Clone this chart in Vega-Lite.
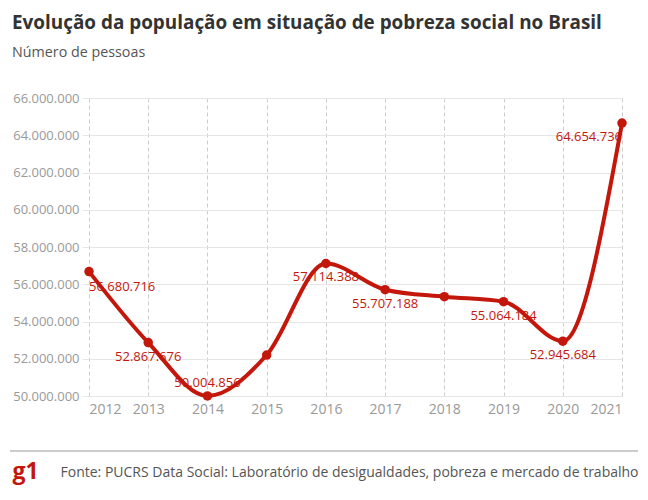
{
  "$schema": "https://vega.github.io/schema/vega-lite/v6.json",
  "width": 533,
  "height": 298,
  "autosize": "none",
  "padding": {"left": 89, "top": 98, "right": 26, "bottom": 104},
  "background": "white",
  "config": {
    "locale": {"number": {"decimal": ",", "thousands": ".", "grouping": [3], "currency": ["R$", ""]}},
    "font": "Open Sans",
    "view": {"stroke": null}
  },
  "title": {
    "text": "Evolução da população em situação de pobreza social no Brasil",
    "subtitle": "Número de pessoas",
    "anchor": "start",
    "frame": "group",
    "dx": -77,
    "offset": 32,
    "font": "Open Sans",
    "fontSize": 18.9,
    "fontWeight": "bold",
    "color": "#333333",
    "subtitleFont": "Open Sans",
    "subtitleFontSize": 14.3,
    "subtitleColor": "#555555",
    "subtitlePadding": 13
  },
  "data": {
    "values": [
      {"year": 2012, "value": 56680716},
      {"year": 2013, "value": 52867676},
      {"year": 2014, "value": 50004856},
      {"year": 2015, "value": 52200000},
      {"year": 2016, "value": 57114388},
      {"year": 2017, "value": 55707188},
      {"year": 2018, "value": 55330000},
      {"year": 2019, "value": 55064184},
      {"year": 2020, "value": 52945684},
      {"year": 2021, "value": 64654736}
    ]
  },
  "encoding": {
    "x": {
      "field": "year",
      "type": "quantitative",
      "scale": {"domain": [2012, 2021], "nice": false, "zero": false},
      "axis": {
        "values": [2012, 2013, 2014, 2015, 2016, 2017, 2018, 2019, 2020, 2021],
        "format": "d",
        "grid": true,
        "gridDash": [4, 3],
        "gridColor": "#cccccc",
        "gridWidth": 1,
        "domain": false,
        "ticks": false,
        "labelPadding": 6,
        "labelFontSize": 14,
        "labelColor": "#999999",
        "labelFont": "Open Sans",
        "title": "Fonte: PUCRS Data Social: Laboratório de desigualdades, pobreza e mercado de trabalho",
        "titleX": -29,
        "titleY": 76,
        "titleAlign": "left",
        "titleAnchor": "start",
        "titleBaseline": "middle",
        "titleFont": "Open Sans",
        "titleFontSize": 14,
        "titleFontWeight": "normal",
        "titleColor": "#555555"
      }
    },
    "y": {
      "field": "value",
      "type": "quantitative",
      "scale": {"domain": [50000000, 66000000], "nice": false, "zero": false},
      "axis": {
        "values": [50000000, 52000000, 54000000, 56000000, 58000000, 60000000, 62000000, 64000000, 66000000],
        "format": ",d",
        "grid": true,
        "gridColor": "#e6e6e6",
        "gridWidth": 1,
        "domain": false,
        "tickSize": 7,
        "tickColor": "#e6e6e6",
        "labelPadding": 3,
        "labelFontSize": 13,
        "labelColor": "#999999",
        "labelFont": "Open Sans",
        "title": "g1",
        "titleAngle": 0,
        "titleX": -77,
        "titleY": 373,
        "titleAlign": "left",
        "titleBaseline": "middle",
        "titleFont": "Open Sans",
        "titleFontSize": 23,
        "titleFontWeight": "bold",
        "titleColor": "#c4170c"
      }
    }
  },
  "layer": [
    {
      "mark": {"type": "rule", "color": "#cccccc", "strokeWidth": 2},
      "encoding": {
        "x": {"datum": 2010.666},
        "x2": {"datum": 2021.27},
        "y": {"datum": 47047000}
      }
    },
    {
      "mark": {"type": "line", "interpolate": "monotone", "color": "#c4170c", "strokeWidth": 4}
    },
    {
      "mark": {"type": "point", "filled": true, "opacity": 1, "color": "#c4170c", "size": 90}
    },
    {
      "transform": [{"filter": {"field": "year", "oneOf": [2013, 2016, 2017, 2019, 2020]}}],
      "mark": {"type": "text", "align": "center", "baseline": "middle", "dy": 14, "fontSize": 13, "color": "#c4170c", "font": "Open Sans"},
      "encoding": {"text": {"field": "value", "type": "quantitative", "format": ",d"}}
    },
    {
      "transform": [{"filter": {"field": "year", "equal": 2012}}],
      "mark": {"type": "text", "align": "left", "baseline": "middle", "dy": 15, "dx": 0, "fontSize": 13, "color": "#c4170c", "font": "Open Sans"},
      "encoding": {"text": {"field": "value", "type": "quantitative", "format": ",d"}}
    },
    {
      "transform": [{"filter": {"field": "year", "equal": 2014}}],
      "mark": {"type": "text", "align": "center", "baseline": "middle", "dy": -13, "fontSize": 13, "color": "#c4170c", "font": "Open Sans"},
      "encoding": {"text": {"field": "value", "type": "quantitative", "format": ",d"}}
    },
    {
      "transform": [{"filter": {"field": "year", "equal": 2021}}],
      "mark": {"type": "text", "align": "right", "baseline": "middle", "dy": 14, "dx": 0, "fontSize": 13, "color": "#c4170c", "font": "Open Sans"},
      "encoding": {"text": {"field": "value", "type": "quantitative", "format": ",d"}}
    }
  ]
}
